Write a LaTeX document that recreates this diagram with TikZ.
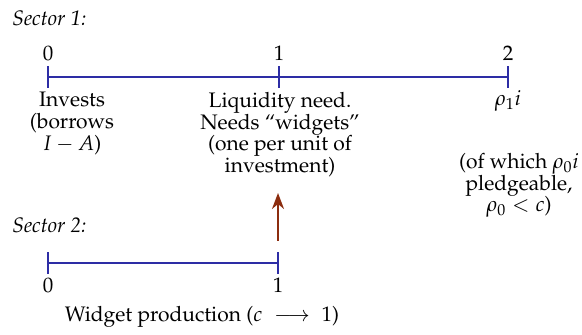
\documentclass[tikz,border=0pt]{standalone}
\usepackage[T1]{fontenc}
\usepackage{mathpazo}
\usetikzlibrary{arrows.meta}
\definecolor{lineblue}{RGB}{45,45,165}
\definecolor{arrowbrown}{RGB}{140,45,15}
\begin{document}
\begin{tikzpicture}[x=0.5pt,y=-0.5pt,
  txt/.style={inner sep=0pt,font=\fontsize{10.5}{10.8}\selectfont,align=center},
  itxt/.style={inner sep=0pt,font=\fontsize{10.5}{10.8}\selectfont\itshape},
  tl/.style={draw=lineblue,line width=0.75pt},
  tick/.style={draw=lineblue,line width=0.75pt}]
\useasboundingbox (0,0) rectangle (582,335);
% Sector 1
\node[itxt,anchor=west] (s1) at (12,18) {Sector 1:};
\coordinate (a0) at (48,77);
\coordinate (a1) at (279,77);
\coordinate (a2) at (508,77);
\draw[tl] (a0) -- (a2);
\foreach \p in {a0,a1,a2} \draw[tick] ([yshift=-5.5pt]\p) -- ([yshift=5.5pt]\p);
\node[txt] (n0) at (48,53) {0};
\node[txt] (n1) at (279,53) {1};
\node[txt] (n2) at (508,53) {2};
\node[txt,anchor=north] (inv) at (72,92) {Invests\\(borrows\\$I-A$)};
\node[txt,anchor=north] (liq) at (280,92) {Liquidity need.\\Needs ``widgets''\\(one per unit of\\investment)};
\node[txt] (rho) at (508,101) {$\rho_1 i$};
\node[txt,anchor=north] (pl) at (519,153) {(of which $\rho_0 i$\\pledgeable,\\$\rho_0<c$)};
% Sector 2
\node[itxt,anchor=west] (s2) at (12,225) {Sector 2:};
\coordinate (b0) at (48,263);
\coordinate (b1) at (278,263);
\draw[tl] (b0) -- (b1);
\foreach \p in {b0,b1} \draw[tick] ([yshift=-5.5pt]\p) -- ([yshift=5.5pt]\p);
\node[txt] (m0) at (48,285) {0};
\node[txt] (m1) at (278,285) {1};
\node[txt] (wp) at (202,317) {Widget production ($c\;\longrightarrow\;1$)};
% arrow
\coordinate (arS) at (278,241);
\coordinate (arE) at (278,193);
\draw[arrowbrown,line width=1pt,-{Stealth[length=8pt,width=6pt,inset=2.5pt]}] (arS) -- (arE);
\end{tikzpicture}
\end{document}
